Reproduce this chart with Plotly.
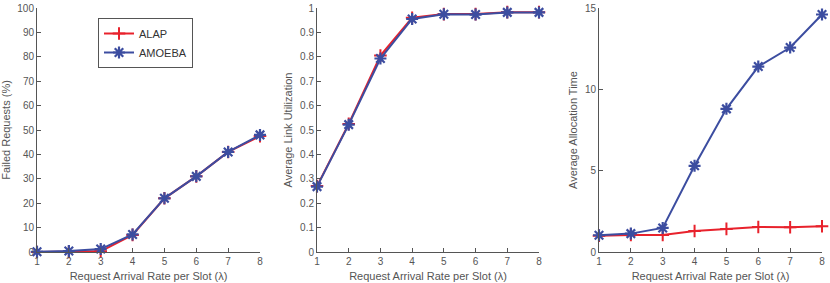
import plotly.graph_objects as go

x = [1, 2, 3, 4, 5, 6, 7, 8]

failed_alap = [0.0, 0.0, 0.3, 7.0, 22.0, 31.0, 41.0, 47.5]
failed_amoeba = [0.1, 0.4, 1.2, 7.2, 22.0, 31.0, 41.0, 48.0]

util_alap = [0.270, 0.525, 0.805, 0.960, 0.975, 0.975, 0.983, 0.983]
util_amoeba = [0.268, 0.522, 0.793, 0.955, 0.974, 0.973, 0.982, 0.982]

time_alap = [1.00, 1.05, 1.05, 1.29, 1.42, 1.54, 1.52, 1.58]
time_amoeba = [1.03, 1.13, 1.48, 5.30, 8.80, 11.40, 12.57, 14.60]

names = ["ALAP", "AMOEBA"]
RED = "#e8222c"
BLUE = "#3c4da0"
AX = "#555555"
FONT = "Liberation Sans, Arial, sans-serif"

fig = go.Figure()

panels = [
    (failed_alap, failed_amoeba, "x", "y"),
    (util_alap, util_amoeba, "x2", "y2"),
    (time_alap, time_amoeba, "x3", "y3"),
]
for i, (a, b, xa, ya) in enumerate(panels):
    fig.add_trace(go.Scatter(
        x=x, y=a, name=names[0], mode="lines+markers", xaxis=xa, yaxis=ya,
        line=dict(color=RED, width=2),
        marker=dict(symbol="cross-thin-open", size=9, line=dict(color=RED, width=2), color=RED),
        showlegend=(i == 0), cliponaxis=False))
    fig.add_trace(go.Scatter(
        x=x, y=b, name=names[1], mode="lines+markers", xaxis=xa, yaxis=ya,
        line=dict(color=BLUE, width=2),
        marker=dict(symbol="asterisk-open", size=10, line=dict(color=BLUE, width=2.2), color=BLUE),
        showlegend=(i == 0), cliponaxis=False))

ydom = [31 / 283, 275 / 283]
xdoms = [[37 / 830, 260 / 830], [317 / 830, 539 / 830], [599 / 830, 822 / 830]]
ytitles = ["Failed Requests (%)", "Average Link Utilization", "Average Allocation Time"]
yranges = [[0, 100], [0, 1], [0, 15]]
ydticks = [10, 0.1, 5]

common_axis = dict(
    showline=True, linecolor=AX, linewidth=1, ticks="inside", ticklen=4,
    tickcolor=AX, showgrid=False, zeroline=False, mirror=False, automargin=False,
    tickfont=dict(family=FONT, size=10, color=AX),
)

layout = dict(
    width=830, height=283, margin=dict(l=0, r=0, t=0, b=0, autoexpand=False),
    plot_bgcolor="white", paper_bgcolor="white",
    font=dict(family=FONT, color=AX),
    legend=dict(x=98 / 830, y=1 - 18 / 283, xanchor="left", yanchor="top",
                bordercolor=AX, borderwidth=1, bgcolor="white",
                font=dict(family=FONT, size=11, color="#333333"),
                tracegroupgap=0, itemwidth=30),
)
for i in range(3):
    s = "" if i == 0 else str(i + 1)
    layout["xaxis" + s] = dict(
        common_axis, domain=xdoms[i], range=[1, 8], dtick=1, anchor="y" + s,
        title=dict(text="Request Arrival Rate per Slot (λ)", standoff=6,
                   font=dict(family=FONT, size=11, color=AX)))
    layout["yaxis" + s] = dict(
        common_axis, domain=ydom, range=yranges[i], dtick=ydticks[i], anchor="x" + s,
        title=dict(text=ytitles[i], standoff=5,
                   font=dict(family=FONT, size=11, color=AX)))

fig.update_layout(**layout)
fig.write_html("out.html", config={"displayModeBar": False},
               post_script="document.body.style.margin='0';document.body.style.overflow='hidden';")
